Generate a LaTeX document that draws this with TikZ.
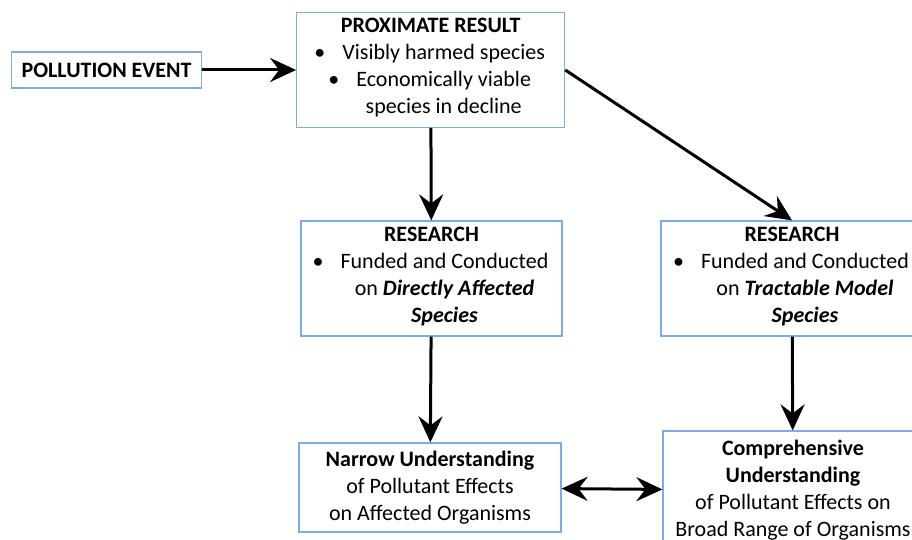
\documentclass[tikz,border=0pt]{standalone}
\usepackage{fontspec}
\setmainfont{Carlito}
\usetikzlibrary{arrows.meta}
\definecolor{boxblue}{RGB}{125,172,222}
\newcommand{\bul}{\llap{\textbullet\hspace{8.5pt}}}

\begin{document}
\begin{tikzpicture}[x=0.5pt,y=-0.5pt,
  box/.style={draw=boxblue, line width=0.6pt, align=center, inner sep=0pt, font=\fontsize{11}{13.5}\selectfont},
  arr/.style={line width=1.5pt, -{Stealth[length=13pt,width=12pt,inset=4.5pt]}},
  dblarr/.style={line width=1.5pt, {Stealth[length=13pt,width=12pt,inset=4.5pt]}-{Stealth[length=13pt,width=12pt,inset=4.5pt]}}]
\useasboundingbox (0,0) rectangle (912,540);
\node[box, minimum width=95pt, minimum height=18pt] (event) at (106.6,70) {\textbf{POLLUTION EVENT}};
\node[box, minimum width=134pt, minimum height=57.3pt] (prox) at (430.7,70) {\textbf{PROXIMATE RESULT}\\
  \begin{tabular}[t]{@{\hspace{13pt}}c@{}}\bul Visibly harmed species\\ \bul Economically viable\\ species in decline\end{tabular}};
\node[box, minimum width=130.5pt, minimum height=57.5pt] (resA) at (431.5,278.5) {\textbf{RESEARCH}\\
  \begin{tabular}[t]{@{\hspace{13pt}}c@{}}\bul Funded and Conducted\\ on \textbf{\textit{Directly Affected}}\\ \textbf{\textit{Species}}\end{tabular}};
\node[box, minimum width=131pt, minimum height=57.5pt] (resB) at (792,278.5) {\textbf{RESEARCH}\\
  \begin{tabular}[t]{@{\hspace{13pt}}c@{}}\bul Funded and Conducted\\ on \textbf{\textit{Tractable Model}}\\ \textbf{\textit{Species}}\end{tabular}};
\node[box, minimum width=131pt, minimum height=44.5pt] (narrow) at (430,487.5) {\textbf{Narrow Understanding}\\ of Pollutant Effects\\ on Affected Organisms};
\node[box, minimum width=130pt, minimum height=59.5pt] (broad) at (793,490.5) {\textbf{Comprehensive}\\ \textbf{Understanding}\\ of Pollutant Effects on\\ Broad Range of Organisms};
\draw[arr] (event) -- (prox);
\draw[arr] (prox) -- (resA);
\draw[arr] (prox.east) -- (resB.north);
\draw[arr] (resA) -- (narrow);
\draw[arr] (resB) -- (broad);
\draw[dblarr] (narrow) -- (broad);
\end{tikzpicture}
\end{document}
